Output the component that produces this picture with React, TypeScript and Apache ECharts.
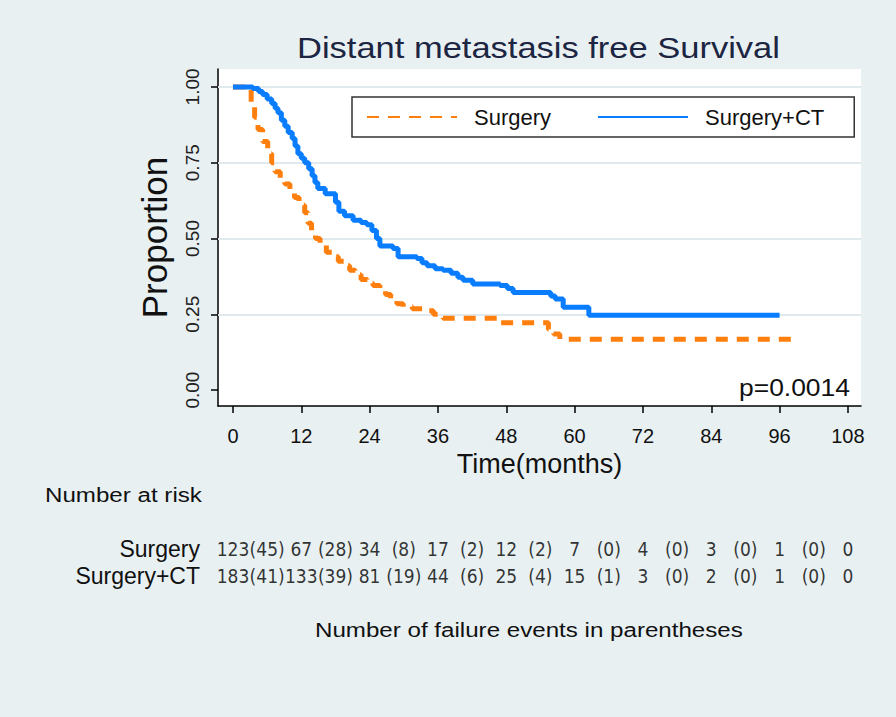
import React, { useEffect, useRef } from "react";
import * as echarts from "echarts";

// Kaplan-Meier estimates (time in months, survival proportion)
const surgeryTime = [0, 2.5, 3.2, 3.8, 4.4, 5.2, 6.1, 6.8, 7.4, 8.3, 9.1, 10.0, 10.8, 11.6, 12.6, 13.2, 13.8, 14.5, 15.3, 16.4, 17.5, 18.5, 19.5, 20.5, 21.5, 22.5, 23.6, 24.6, 25.8, 26.8, 27.7, 28.8, 29.9, 31.5, 33.4, 35.2, 36.9, 46.4, 55.4, 56.3, 57.4, 98.3];
const surgerySurv = [1.0, 0.99, 0.94, 0.9, 0.86, 0.82, 0.78, 0.75, 0.72, 0.7, 0.68, 0.655, 0.635, 0.61, 0.585, 0.55, 0.52, 0.5, 0.48, 0.455, 0.44, 0.425, 0.41, 0.395, 0.38, 0.365, 0.352, 0.345, 0.33, 0.315, 0.298, 0.285, 0.275, 0.268, 0.262, 0.25, 0.237, 0.222, 0.2, 0.185, 0.168, 0.168];

const ctTime = [0, 3.5, 4.5, 5.2, 6.0, 6.8, 7.4, 7.9, 8.5, 9.1, 9.7, 10.4, 10.9, 11.4, 12.0, 12.6, 13.3, 13.9, 14.4, 14.9, 16.2, 18.0, 18.6, 19.6, 21.1, 22.5, 23.5, 24.4, 25.2, 25.8, 28.1, 29.0, 32.3, 33.2, 34.1, 35.5, 36.9, 38.3, 39.5, 40.4, 42.1, 46.9, 48.2, 49.2, 55.8, 56.6, 58.0, 62.5, 96.0];
const ctSurv = [1.0, 0.995, 0.985, 0.975, 0.96, 0.945, 0.93, 0.915, 0.89, 0.87, 0.85, 0.83, 0.805, 0.78, 0.765, 0.75, 0.73, 0.707, 0.685, 0.665, 0.648, 0.62, 0.59, 0.575, 0.56, 0.553, 0.545, 0.526, 0.5, 0.475, 0.467, 0.44, 0.434, 0.42, 0.41, 0.4, 0.395, 0.385, 0.372, 0.362, 0.35, 0.345, 0.335, 0.322, 0.31, 0.3, 0.273, 0.247, 0.247];

const seriesNames = ["Surgery", "Surgery+CT"];
const xTicks = [0, 12, 24, 36, 48, 60, 72, 84, 96, 108];
const yTicks = [0, 0.25, 0.5, 0.75, 1];

// Number at risk table
const surgeryAtRisk = [123, 67, 34, 17, 12, 7, 4, 3, 1, 0];
const surgeryEvents = [45, 28, 8, 2, 2, 0, 0, 0, 0];
const ctAtRisk = [183, 133, 81, 44, 25, 15, 3, 2, 1, 0];
const ctEvents = [41, 39, 19, 6, 4, 1, 0, 0, 0];

const pValueText = "p=0.0014";
const titleText = "Distant metastasis free Survival";

const FONT = "'Liberation Sans', Arial, sans-serif";
const NARROW = "'Liberation Sans Narrow', 'Arial Narrow', 'DejaVu Sans Condensed', 'Liberation Sans', sans-serif";
const ORANGE = "#ff7f0e";
const BLUE = "#0a7dff";
const BG = "#e8f0f2";
const STRETCH = 1.15;

function riskRow(group: string, atRisk: number[], events: number[]) {
  const out: any[] = [];
  atRisk.forEach((n, i) => out.push([xTicks[i], group, String(n)]));
  events.forEach((e, i) => out.push([(xTicks[i] + xTicks[i + 1]) / 2, group, "(" + e + ")"]));
  return out;
}

export default function App() {
  const ref = useRef<HTMLDivElement>(null);
  useEffect(() => {
    if (!ref.current) return;
    const chart = echarts.init(ref.current, null, { renderer: "svg" });
    const xMin = -2.63;
    const xMax = 110.3;
    const option: any = {
      animation: false,
      backgroundColor: BG,
      textStyle: { fontFamily: FONT },
      legend: {
        left: 352,
        top: 97,
        padding: [9, 30, 9, 14],
        itemGap: 46,
        itemWidth: 90,
        itemHeight: 14,
        borderColor: "#333",
        borderWidth: 1.5,
        backgroundColor: "#fff",
        itemStyle: { opacity: 0 },
        textStyle: { fontSize: 22, color: "#111", fontFamily: FONT, padding: [0, 0, 0, 12] },
        data: seriesNames,
      },
      grid: [
        { left: 218, top: 69, width: 643, height: 337, backgroundColor: "#fff", show: true, borderWidth: 0 },
        { left: 218, top: 535, width: 643, height: 54, show: false },
      ],
      xAxis: [
        {
          type: "value",
          gridIndex: 0,
          min: xMin,
          max: xMax,
          name: "Time(months)",
          nameLocation: "middle",
          nameGap: 44,
          nameTextStyle: { fontSize: 27, color: "#111", fontFamily: FONT },
          axisLine: { show: true, onZero: false, lineStyle: { color: "#000", width: 1.5 } },
          axisTick: { show: true, length: 7, customValues: xTicks, lineStyle: { color: "#000", width: 1.5 } },
          axisLabel: { customValues: xTicks, fontSize: 20, color: "#111", margin: 20 },
          splitLine: { show: false },
        },
        { type: "value", gridIndex: 1, min: xMin, max: xMax, show: false },
      ],
      yAxis: [
        {
          type: "value",
          gridIndex: 0,
          min: -0.0526,
          max: 1.0592,
          name: "Proportion",
          nameLocation: "middle",
          nameRotate: 90,
          nameGap: 46,
          nameTextStyle: { fontSize: 35, color: "#111", fontFamily: FONT },
          axisLine: { show: true, onZero: false, lineStyle: { color: "#000", width: 1.5 } },
          axisTick: { show: true, length: 7, customValues: yTicks, lineStyle: { color: "#000", width: 1.5 } },
          axisLabel: {
            customValues: yTicks,
            rotate: 90,
            fontSize: 19,
            color: "#222",
            margin: 16,
            formatter: (v: number) => v.toFixed(2),
          },
          splitLine: { show: false },
        },
        {
          type: "category",
          gridIndex: 1,
          inverse: true,
          data: seriesNames,
          axisLine: { show: false },
          axisTick: { show: false },
          axisLabel: { interval: 0, fontSize: 23, color: "#111", margin: 18 },
        },
      ],
      series: [
        {
          name: "grid",
          type: "line",
          xAxisIndex: 0,
          yAxisIndex: 0,
          data: [],
          z: 1,
          silent: true,
          markLine: {
            z: 1,
            silent: true,
            symbol: "none",
            label: { show: false },
            lineStyle: { color: "#e0eaee", width: 2, type: "solid" },
            data: yTicks.filter((v) => v > 0).map((v) => ({ yAxis: v })),
          },
        },
        {
          name: seriesNames[0],
          type: "line",
          step: "end",
          symbol: "none",
          clip: false,
          z: 3,
          color: ORANGE,
          lineStyle: { color: ORANGE, width: 5, type: [12, 9] },
          data: surgeryTime.map((t, i) => [t, surgerySurv[i]]),
        },
        {
          name: seriesNames[1],
          type: "line",
          step: "end",
          symbol: "none",
          clip: false,
          z: 4,
          color: BLUE,
          lineStyle: { color: BLUE, width: 5 },
          data: ctTime.map((t, i) => [t, ctSurv[i]]),
        },
        {
          name: "risk",
          type: "scatter",
          xAxisIndex: 1,
          yAxisIndex: 1,
          symbolSize: 1,
          itemStyle: { color: "rgba(0,0,0,0)" },
          silent: true,
          labelLayout: { hideOverlap: false },
          label: {
            show: true,
            position: "inside",
            fontSize: 19,
            color: "#000",
            fontFamily: NARROW,
            formatter: (p: any) => p.data[2],
          },
          data: [
            ...riskRow(seriesNames[0], surgeryAtRisk, surgeryEvents),
            ...riskRow(seriesNames[1], ctAtRisk, ctEvents),
          ],
        },
      ],
      graphic: [
        {
          type: "text",
          left: 297,
          top: 33,
          scaleX: STRETCH,
          style: { text: titleText, fontSize: 30, fill: "#1c2541", fontFamily: FONT },
        },
        {
          type: "text",
          left: 739,
          top: 377,
          z: 10,
          scaleX: STRETCH,
          style: { text: pValueText, fontSize: 23, fill: "#111", fontFamily: FONT },
        },
        {
          type: "text",
          left: 45,
          top: 485,
          scaleX: STRETCH,
          style: { text: "Number at risk", fontSize: 21, fill: "#111", fontFamily: FONT },
        },
        {
          type: "text",
          left: 315,
          top: 620,
          scaleX: STRETCH,
          style: { text: "Number of failure events in parentheses", fontSize: 21, fill: "#111", fontFamily: FONT },
        },
      ],
    };
    chart.setOption(option);
    return () => chart.dispose();
  }, []);
  return (
    <div
      ref={ref}
      style={{ position: "absolute", left: 0, top: 0, width: 896, height: 717 }}
    />
  );
}
